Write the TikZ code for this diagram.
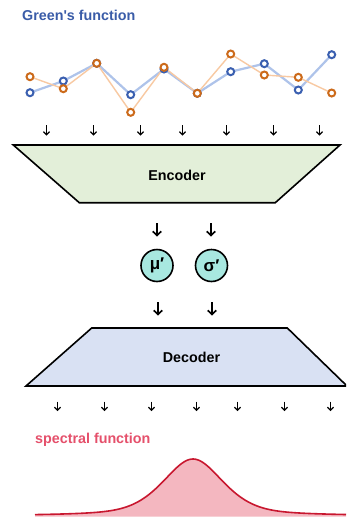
\documentclass[tikz,border=0pt]{standalone}
\usepackage{fontspec}
\setmainfont{Liberation Sans}
\usetikzlibrary{arrows.meta}
\definecolor{titleblue}{HTML}{3A5CA8}
\definecolor{bluepts}{HTML}{3A5FB0}
\definecolor{blueline}{HTML}{AEC3EA}
\definecolor{orangepts}{HTML}{CC6A1A}
\definecolor{orangeline}{HTML}{F8C9A2}
\definecolor{encfill}{HTML}{E3EFD9}
\definecolor{decfill}{HTML}{D9E1F3}
\definecolor{latfill}{HTML}{A8E8E0}
\definecolor{spectext}{HTML}{E5506B}
\definecolor{specline}{HTML}{C8172F}
\definecolor{specfill}{HTML}{F4B7C0}
\tikzset{
  lbl/.style={font=\fontsize{14.3}{16}\selectfont\bfseries, inner sep=0pt},
  smallarr/.style={line width=1.2pt, -{Straight Barb[length=3pt,width=6pt]}},
  bigarr/.style={line width=1.7pt, -{Straight Barb[length=4pt,width=8.5pt]}},
  block/.style={draw=black, line width=1.6pt, line join=miter},
  latent/.style={circle, draw=black, line width=1.6pt, fill=latfill, minimum size=32pt, inner sep=0pt, font=\fontsize{17}{18}\selectfont\bfseries},
  bmark/.style={circle, draw=bluepts, fill=white, line width=2pt, minimum size=7pt, inner sep=0pt},
  omark/.style={circle, draw=orangepts, fill=white, line width=2pt, minimum size=7pt, inner sep=0pt},
}
\begin{document}
\begin{tikzpicture}[x=1pt,y=-1pt]
\clip (0,0) rectangle (346,517);
\fill[white] (0,0) rectangle (346,517);

% title
\node[lbl, text=titleblue, anchor=base west] (title) at (22,20.8) {Green\textquotesingle s function};

% data series
\draw[blueline, line width=2.2pt, line join=round]
  (30,92.7) -- (63.3,81) -- (96.7,63.3) -- (130.7,94.7) -- (164,69) -- (197.3,93.3)
  -- (230.7,71.7) -- (264.3,63.7) -- (298.3,90) -- (331.7,54.7);
\draw[orangeline, line width=1.4pt, line join=round]
  (30,76.7) -- (63.3,88.7) -- (96.7,63.3) -- (130.7,112.3) -- (164,67.3) -- (197.3,93.3)
  -- (230.7,54) -- (264.3,75) -- (298.3,77.3) -- (331.7,93);
\foreach \px/\py [count=\i] in {30/92.7,63.3/81,96.7/63.3,130.7/94.7,164/69,197.3/93.3,230.7/71.7,264.3/63.7,298.3/90,331.7/54.7}
  \node[bmark] (b\i) at (\px,\py) {};
\foreach \px/\py [count=\i] in {30/76.7,63.3/88.7,96.7/63.3,130.7/112.3,164/67.3,197.3/93.3,230.7/54,264.3/75,298.3/77.3,331.7/93}
  \node[omark] (o\i) at (\px,\py) {};

% input arrows
\foreach \ax [count=\i] in {46.5,93.5,140.5,182.5,226.5,273.5,319.5} {
  \coordinate (ti\i) at (\ax,125);
  \coordinate (te\i) at (\ax,135.5);
  \draw[smallarr] (ti\i) -- (te\i);
}

% encoder
\coordinate (e1) at (13.3,145);
\coordinate (e2) at (340,145);
\coordinate (e3) at (275.3,202.7);
\coordinate (e4) at (79.3,202.7);
\draw[block, fill=encfill] (e1) -- (e2) -- (e3) -- (e4) -- cycle;
\node[lbl] (enc) at (177,175.5) {Encoder};

% latent
\node[latent] (mu) at (157,265.5) {μ′};
\node[latent] (sig) at (211.5,265.5) {σ′};
\coordinate (ma) at (157,223); \coordinate (mb) at (157,236.5);
\coordinate (sa) at (211,223); \coordinate (sb) at (211,236.5);
\draw[bigarr] (ma) -- (mb);
\draw[bigarr] (sa) -- (sb);
\coordinate (mc) at (158,302); \coordinate (md) at (158,315.5);
\coordinate (sc) at (212,302); \coordinate (sd) at (212,315.5);
\draw[bigarr] (mc) -- (md);
\draw[bigarr] (sc) -- (sd);

% decoder
\coordinate (d1) at (91.7,328);
\coordinate (d2) at (287.3,328);
\coordinate (d3) at (347,386);
\coordinate (d4) at (26,386);
\draw[block, fill=decfill] (d1) -- (d2) -- (d3) -- (d4) -- cycle;
\node[lbl] (dec) at (191.5,357) {Decoder};

% output arrows
\foreach \ax [count=\i] in {57.5,104.5,151.5,196.5,237.5,284.5,330.5} {
  \coordinate (bi\i) at (\ax,401.5);
  \coordinate (be\i) at (\ax,411);
  \draw[smallarr] (bi\i) -- (be\i);
}

% spectral function
\node[lbl, text=spectext, anchor=base west] (spec) at (35,443.3) {spectral function};
\fill[specfill] (35,516.5) -- plot[domain=35:346, samples=160, smooth]
  (\x, {516 - 57*(0.5*exp(-0.5*((\x-193)/30.6)^2) + 0.5/(1+((\x-193)/36)^2))}) -- (346,516.5) -- cycle;
\draw[specline, line width=1.6pt] plot[domain=35:346, samples=160, smooth]
  (\x, {516 - 57*(0.5*exp(-0.5*((\x-193)/30.6)^2) + 0.5/(1+((\x-193)/36)^2))});
\end{tikzpicture}
\end{document}
